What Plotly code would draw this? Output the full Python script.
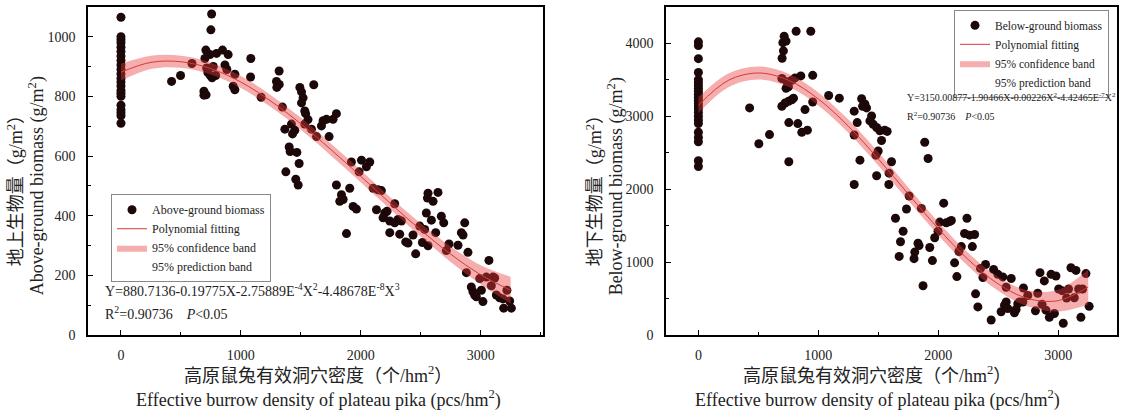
import plotly.graph_objects as go

# ---------------- data: above-ground biomass ----------------
ag_x = [0]*22 + [
    422, 497, 592, 692, 692, 710, 756, 750,
    708, 742, 797, 847, 894, 700, 715, 725, 745, 760, 790, 770,
    867, 883, 950, 936, 950, 1083, 1081, 1169,
    1319, 1297, 1320, 1300, 1347, 1492, 1506, 1519, 1506, 1533, 1608,
    1540, 1560, 1533, 1589, 1631, 1672, 1686, 1714, 1769, 1797, 1736,
    1367, 1422, 1450, 1431, 1403, 1411, 1467, 1486, 1375, 1458, 1478,
    1797, 1908, 1839, 1853, 1825, 1936, 1964, 1881,
    1922, 2006, 2075, 2047, 1986, 2103, 2144, 2172, 2131, 2200, 2219, 2186, 2283,
    2242, 2283, 2311, 2339, 2325, 2242, 2375, 2394, 2436, 2458,
    2492, 2533, 2561, 2514, 2561, 2603, 2644, 2556,
    2547, 2589, 2625, 2672, 2692, 2714, 2736, 2811, 2839, 2853, 2867, 2894,
    2881, 2922, 2936, 2950, 2964, 3019, 3006, 2992, 3047, 3103, 3069, 3089, 3117,
    3131, 3158, 3186, 3192, 3219, 3242, 3256]
ag_y = [1065, 1000, 990, 980, 965, 950, 935, 920, 905, 890, 875, 860, 848, 835,
        820, 810, 800, 770, 755, 745, 735, 710] + [
    850, 870, 910, 817, 804, 805, 1076, 1023,
    955, 940, 944, 955, 940, 927, 895, 880, 870, 862, 870, 900,
    905, 890, 874, 834, 822, 927, 865, 797,
    885, 850, 840, 830, 764, 830, 815, 795, 778, 751, 839,
    742, 722, 707, 690, 665, 701, 718, 723, 723, 742, 665,
    690, 707, 686, 674, 630, 615, 612, 575, 547, 522, 503,
    503, 492, 470, 454, 448, 431, 422, 340,
    580, 586, 580, 564, 547, 492, 487, 484, 420, 409, 415, 393, 440,
    382, 376, 387, 382, 338, 343, 312, 308, 335, 272,
    365, 354, 299, 310, 475, 448, 478, 459,
    409, 385, 343, 398, 376, 283, 305, 301, 343, 335, 376, 277,
    209, 161, 145, 134, 128, 112, 150, 189, 194, 194, 250, 165, 191,
    134, 125, 121, 90, 150, 114, 90]

# ---------------- data: below-ground biomass ----------------
bg_x = [0]*24 + [
    427, 504, 593, 696, 723, 751, 779, 793,
    704, 731, 715, 709, 698, 815, 937,
    696, 737, 779, 806, 854, 751, 731, 953, 953, 889,
    754, 829, 862, 909, 754, 1086, 1175, 1299, 1324,
    1361, 1388, 1369, 1402, 1444, 1430, 1457, 1486, 1513, 1554, 1574, 1527,
    1299, 1347, 1480, 1499, 1486, 1299, 1590, 1610, 1588,
    1757, 1735, 1859, 1643, 1707, 1685, 1887, 1915,
    1674, 1804, 1798, 1831, 1840, 1873, 1929, 1951, 1970,
    1998, 2045, 2012, 2067, 2095, 2109, 2239, 2219, 2261, 2303, 2284,
    2172, 2192, 2136, 2155, 2352, 2394, 2372, 2311, 2330, 2441,
    2461, 2497, 2538, 2566, 2608, 2524, 2552, 2566, 2580, 2635, 2649, 2663,
    2677, 2705, 2710, 2746, 2810, 2829, 2865, 2848, 2884, 2940, 2981,
    2898, 2926, 2968, 3042, 3004, 3032, 3086, 3070, 3134, 3170, 3203, 3231,
    3106, 3148, 3189, 3258]
bg_y = [4020, 3970, 3790, 3600, 3500, 3460, 3420, 3380, 3340, 3300, 3260, 3220,
        3180, 3140, 3100, 3050, 3000, 2950, 2900, 2780, 2710, 2650, 2390, 2310] + [
    3114, 2622, 2748, 3137, 3181, 3204, 3226, 3248,
    4009, 4031, 4098, 3897, 3795, 4165, 4165,
    3517, 3472, 3494, 3526, 3553, 3405, 3383, 3561, 3195, 3091,
    2913, 2899, 2779, 2809, 2376, 3284, 3248, 3070, 2913,
    3239, 3168, 3137, 3114, 3003, 2936, 2890, 2846, 2801, 2809, 2792, 2667,
    2742, 2398, 2466, 2523, 2184, 2063, 2219, 2376, 2063,
    1906, 1728, 1736, 1601, 1423, 1279, 2644, 2420,
    1078, 1137, 1047, 1258, 1226, 675, 1199, 1020, 1333,
    1423, 1808, 1548, 1539, 1557, 1570, 1601, 1392, 1369, 1378, 1212,
    1145, 1212, 989, 801, 913, 966, 788, 564, 385, 205,
    899, 832, 796, 654, 774, 318, 407, 452, 362, 304, 349, 430,
    452, 452, 644, 541, 331, 573, 420, 855, 742, 832, 809,
    340, 242, 295, 161, 631, 608, 631, 506, 510, 631, 631, 842,
    922, 886, 242, 393]

# ---------------- fitted curves and confidence bands ----------------
fit_x = [0, 250, 500, 750, 1000, 1250, 1500, 1750, 2000, 2250, 2500, 2750, 3000, 3250]
ag_fit = [881, 914, 916, 893, 848, 784, 708, 622, 532, 440, 352, 271, 202, 150]
ag_up = [909, 936, 936, 913, 868, 804, 728, 642, 552, 460, 374, 297, 234, 195]
ag_lo = [853, 892, 896, 873, 828, 764, 688, 602, 512, 420, 330, 245, 170, 105]
bg_fit = [3150, 3492, 3593, 3494, 3237, 2864, 2415, 1933, 1459, 1034, 700, 499, 471, 658]
bg_up = [3260, 3587, 3683, 3584, 3327, 2954, 2505, 2023, 1549, 1124, 795, 609, 621, 898]
bg_lo = [3040, 3397, 3503, 3404, 3147, 2774, 2325, 1843, 1369, 944, 605, 389, 321, 418]

x_ticks = [0, 1000, 2000, 3000]
ag_ticks = [0, 200, 400, 600, 800, 1000]
bg_ticks = [0, 1000, 2000, 3000, 4000]

SERIF = "Liberation Serif, Noto Sans CJK SC"
DOT = "#1c0808"
BAND = "rgba(232,60,60,0.42)"
LINE = "#d43a3a"

fig = go.Figure()


def add_panel(xs, ys, fx, ffit, fup, flo, xa, ya, leg, pname):
    fig.add_trace(go.Scatter(x=xs, y=ys, mode="markers", name=pname,
                             marker=dict(color=DOT, size=9, line=dict(width=0)),
                             xaxis=xa, yaxis=ya, legend=leg, legendrank=1))
    fig.add_trace(go.Scatter(x=fx, y=flo, mode="lines", line=dict(width=0, shape="spline"),
                             showlegend=False, xaxis=xa, yaxis=ya, hoverinfo="skip"))
    fig.add_trace(go.Scatter(x=fx, y=fup, mode="lines", fill="tonexty", fillcolor=BAND,
                             line=dict(width=0, shape="spline"), name="95% confidence band",
                             xaxis=xa, yaxis=ya, legend=leg, legendrank=3))
    fig.add_trace(go.Scatter(x=fx, y=ffit, mode="lines", name="Polynomial fitting",
                             line=dict(color=LINE, width=1, shape="spline"),
                             xaxis=xa, yaxis=ya, legend=leg, legendrank=2))
    fig.add_trace(go.Scatter(x=[None], y=[None], mode="lines", name="95% prediction band",
                             line=dict(color="rgba(255,255,255,0)", width=1),
                             xaxis=xa, yaxis=ya, legend=leg, legendrank=4))


add_panel(ag_x, ag_y, fit_x, ag_fit, ag_up, ag_lo, "x", "y", "legend", "Above-ground biomass")
add_panel(bg_x, bg_y, fit_x, bg_fit, bg_up, bg_lo, "x2", "y2", "legend2", "Below-ground biomass")

axis_common = dict(showline=True, linecolor="black", linewidth=1.5, mirror=True,
                   ticks="inside", ticklen=5, tickwidth=1.2, tickcolor="black",
                   showgrid=False, zeroline=False,
                   tickfont=dict(family=SERIF, size=14, color="#222"))

ydom = [1 - 341.5 / 419, 1 - 7 / 419]
leg_common = dict(bordercolor="#888", borderwidth=1, bgcolor="white",
                  tracegroupgap=0, itemwidth=30, traceorder="normal")
fig.update_layout(
    width=1121, height=419, margin=dict(l=0, r=0, t=0, b=0),
    paper_bgcolor="white", plot_bgcolor="white",
    xaxis=dict(domain=[88 / 1121, 543 / 1121], range=[-275, 3520], anchor="y",
               tickvals=x_ticks, ticktext=[str(v) for v in x_ticks],
               minor=dict(dtick=500, tick0=0, ticks="inside", ticklen=3, tickcolor="black"),
               ticklabelstandoff=6, **axis_common),
    yaxis=dict(domain=ydom, range=[0, 1100], anchor="x",
               tickvals=ag_ticks, ticktext=[str(v) for v in ag_ticks],
               minor=dict(dtick=100, tick0=0, ticks="inside", ticklen=3, tickcolor="black"),
               ticklabelstandoff=8, **axis_common),
    xaxis2=dict(domain=[666 / 1121, 1117 / 1121], range=[-270, 3490], anchor="y2",
                tickvals=x_ticks, ticktext=[str(v) for v in x_ticks],
                minor=dict(dtick=500, tick0=0, ticks="inside", ticklen=3, tickcolor="black"),
                ticklabelstandoff=6, **axis_common),
    yaxis2=dict(domain=ydom, range=[0, 4500], anchor="x2",
                tickvals=bg_ticks, ticktext=[str(v) for v in bg_ticks],
                minor=dict(dtick=500, tick0=0, ticks="inside", ticklen=3, tickcolor="black"),
                ticklabelstandoff=8, **axis_common),
    legend=dict(x=111 / 1121, y=1 - 198 / 419, xanchor="left", yanchor="top",
                font=dict(family=SERIF, size=12, color="#222"), **leg_common),
    legend2=dict(x=1109 / 1121, y=1 - 10 / 419, xanchor="right", yanchor="top",
                 font=dict(family=SERIF, size=11.5, color="#222"), **leg_common),
    showlegend=True,
)

ann = []
tfont = dict(family=SERIF, size=18, color="#222")


def title(text, x, y, angle=0, font=tfont):
    ann.append(dict(text=text, x=x / 1121, y=1 - y / 419, xref="paper", yref="paper",
                    xanchor="center", yanchor="middle", textangle=angle,
                    showarrow=False, font=font))


# y titles
title("地上生物量（g/m<sup>2</sup>）", 15, 190, -90)
title("Above-ground biomass (g/m<sup>2</sup>)", 37, 190, -90)
title("地下生物量（g/m<sup>2</sup>）", 594, 190, -90)
title("Below-ground biomass (g/m<sup>2</sup>)", 616, 190, -90)
# x titles
for cx in (318, 877):
    title("高原鼠兔有效洞穴密度（个/hm<sup>2</sup>）", cx, 382)
    title("Effective burrow density of plateau pika (pcs/hm<sup>2</sup>)", cx, 407)

# equations
efont = dict(family=SERIF, size=14, color="#222")
sfont = dict(family=SERIF, size=10, color="#222")


def eq(text, x, y, font):
    ann.append(dict(text=text, x=x / 1121, y=1 - y / 419, xref="paper", yref="paper",
                    xanchor="left", yanchor="middle", showarrow=False, font=font))


eq("Y=880.7136-0.19775X-2.75889E<sup>-4</sup>X<sup>2</sup>-4.48678E<sup>-8</sup>X<sup>3</sup>", 103, 296, efont)
eq("R<sup>2</sup>=0.90736    <i>P</i><0.05", 103, 319, efont)
eq("Y=3150.00877-1.90466X-0.00226X<sup>2</sup>-4.42465E<sup>-7</sup>X<sup>2</sup>", 905, 99, sfont)
eq("R<sup>2</sup>=0.90736    <i>P</i><0.05", 905, 118, sfont)
fig.update_layout(annotations=ann)

fig.write_html("out.html")
